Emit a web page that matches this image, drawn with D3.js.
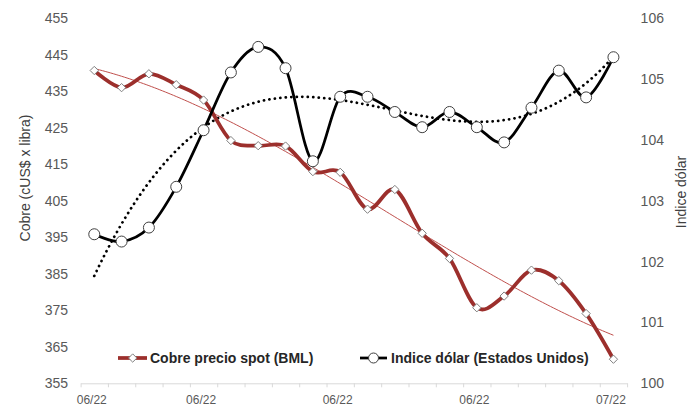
<!DOCTYPE html>
<html>
<head>
<meta charset="utf-8">
<script src="https://cdn.jsdelivr.net/npm/d3@7"></script>
<style>
  body { margin: 0; background: #fff; }
  svg { display: block; font-family: "Liberation Sans", Arial, sans-serif; }
  .axis text { fill: #595959; }
</style>
</head>
<body>
<svg id="chart" width="696" height="406"></svg>
<script>
// daily points, June 2022 -> 1 July 2022
var categories = ['06/22', '06/22', '06/22', '06/22', '06/22', '06/22', '06/22', '06/22', '06/22', '06/22',
  '06/22', '06/22', '06/22', '06/22', '06/22', '06/22', '06/22', '06/22', '06/22', '07/22']
var tickIndex = [0, 4, 9, 14, 19]

var cobre = [440.7, 436.0, 439.8, 436.8, 432.6, 421.5, 420.1, 420.0, 413.0, 412.8,
  402.7, 408.1, 396.1, 389.2, 375.7, 378.9, 386.0, 383.1, 374.1, 361.6]
var dolar = [102.45, 102.33, 102.56, 103.23, 104.16, 105.11, 105.53, 105.18, 103.65, 104.71,
  104.71, 104.46, 104.21, 104.46, 104.21, 103.96, 104.53, 105.14, 104.70, 105.36]

var leftTicks = [355, 365, 375, 385, 395, 405, 415, 425, 435, 445, 455]
var rightTicks = [100, 101, 102, 103, 104, 105, 106]

var cobreName = 'Cobre precio spot (BML)'
var dolarName = 'Indice dólar (Estados Unidos)'

// least squares polynomial fit (like excel trendline), x = 1..n
function polyFit(values, degree) {
  var n = degree + 1
  var A = [], b = []
  for (var r = 0; r < n; r++) {
    A.push(new Array(n).fill(0))
    b.push(0)
  }
  values.forEach(function (v, i) {
    var xv = i + 1
    for (var r = 0; r < n; r++) {
      for (var c = 0; c < n; c++) A[r][c] += Math.pow(xv, r + c)
      b[r] += v * Math.pow(xv, r)
    }
  })
  for (var k = 0; k < n; k++) {
    var p = k
    for (var r2 = k + 1; r2 < n; r2++) if (Math.abs(A[r2][k]) > Math.abs(A[p][k])) p = r2
    var t = A[k]; A[k] = A[p]; A[p] = t
    var tb = b[k]; b[k] = b[p]; b[p] = tb
    for (var r3 = k + 1; r3 < n; r3++) {
      var f = A[r3][k] / A[k][k]
      for (var c2 = k; c2 < n; c2++) A[r3][c2] -= f * A[k][c2]
      b[r3] -= f * b[k]
    }
  }
  var coef = new Array(n).fill(0)
  for (var k2 = n - 1; k2 >= 0; k2--) {
    var s = b[k2]
    for (var c3 = k2 + 1; c3 < n; c3++) s -= A[k2][c3] * coef[c3]
    coef[k2] = s / A[k2][k2]
  }
  return function (xv) {
    var y = 0
    for (var i = 0; i < n; i++) y += coef[i] * Math.pow(xv, i)
    return y
  }
}

var svg = d3.select('#chart')

var x = d3.scaleLinear().domain([-0.5, categories.length - 0.5]).range([80.6, 627.1])
var yL = d3.scaleLinear().domain([355, 455]).range([383.3, 18.3])
var yR = d3.scaleLinear().domain([100, 106]).range([383.3, 18.3])

// axes
svg.append('g')
  .attr('class', 'axis')
  .attr('transform', 'translate(80.6,0)')
  .call(d3.axisLeft(yL).tickValues(leftTicks).tickSize(0).tickPadding(12.5))
  .call(function (g) { g.select('.domain').remove() })
  .selectAll('text').attr('font-size', 14)

svg.append('g')
  .attr('class', 'axis')
  .attr('transform', 'translate(627.1,0)')
  .call(d3.axisRight(yR).tickValues(rightTicks).tickSize(0).tickPadding(13.5).tickFormat(d3.format('d')))
  .call(function (g) { g.select('.domain').remove() })
  .selectAll('text').attr('font-size', 14)

var bounds = d3.range(categories.length + 1).map(function (i) { return i - 0.5 })
svg.append('g')
  .attr('transform', 'translate(0,383.3)')
  .call(d3.axisBottom(x).tickValues(bounds).tickSize(4).tickSizeOuter(0).tickFormat(''))
  .call(function (g) {
    g.select('.domain').attr('stroke', '#d9d9d9')
    g.selectAll('.tick line').attr('stroke', '#d9d9d9')
  })

svg.append('g')
  .attr('class', 'axis')
  .attr('transform', 'translate(-3,383.3)')
  .call(d3.axisBottom(x).tickValues(tickIndex).tickSize(0).tickPadding(12.5)
    .tickFormat(function (i) { return categories[i] }))
  .call(function (g) { g.select('.domain').remove() })
  .selectAll('text').attr('font-size', 12)

// axis titles
svg.append('text')
  .attr('transform', 'translate(25,178) rotate(-90)')
  .attr('text-anchor', 'middle').attr('dy', '0.35em')
  .attr('font-size', 14).attr('fill', '#404040')
  .text('Cobre (cUS$ x libra)')

svg.append('text')
  .attr('transform', 'translate(681,192) rotate(-90)')
  .attr('text-anchor', 'middle').attr('dy', '0.35em')
  .attr('font-size', 14).attr('fill', '#404040')
  .text('Indice dólar')

// trendlines: polynomial 3 on both series
var fitC = polyFit(cobre, 3)
var fitD = polyFit(dolar, 3)
var samples = d3.range(0, categories.length - 1 + 0.001, 0.1)

svg.append('path')
  .datum(samples)
  .attr('fill', 'none')
  .attr('stroke', '#c0504d')
  .attr('stroke-width', 1)
  .attr('d', d3.line().x(function (t) { return x(t) }).y(function (t) { return yL(fitC(t + 1)) }))

svg.append('path')
  .datum(samples)
  .attr('fill', 'none')
  .attr('stroke', '#000')
  .attr('stroke-width', 2.75)
  .attr('stroke-linecap', 'round')
  .attr('stroke-dasharray', '0.1 5.4')
  .attr('d', d3.line().x(function (t) { return x(t) }).y(function (t) { return yR(fitD(t + 1)) }))

// smoothed series
var lineC = d3.line().curve(d3.curveCardinal)
  .x(function (d, i) { return x(i) }).y(function (d) { return yL(d) })
var lineD = d3.line().curve(d3.curveCardinal)
  .x(function (d, i) { return x(i) }).y(function (d) { return yR(d) })

svg.append('path')
  .datum(cobre)
  .attr('fill', 'none')
  .attr('stroke', '#9c2f2c')
  .attr('stroke-width', 3.75)
  .attr('stroke-linejoin', 'round')
  .attr('d', lineC)

svg.append('path')
  .datum(dolar)
  .attr('fill', 'none')
  .attr('stroke', '#000')
  .attr('stroke-width', 2.75)
  .attr('stroke-linejoin', 'round')
  .attr('d', lineD)

var diamond = d3.symbol().type(d3.symbolDiamond2).size(44)

svg.append('g').selectAll('path')
  .data(cobre)
  .enter().append('path')
  .attr('transform', function (d, i) { return 'translate(' + x(i) + ',' + yL(d) + ')' })
  .attr('d', diamond)
  .attr('fill', '#fff')
  .attr('stroke', '#7f7f7f')
  .attr('stroke-width', 1)

svg.append('g').selectAll('circle')
  .data(dolar)
  .enter().append('circle')
  .attr('cx', function (d, i) { return x(i) })
  .attr('cy', function (d) { return yR(d) })
  .attr('r', 5.5)
  .attr('fill', '#fff')
  .attr('stroke', '#404040')
  .attr('stroke-width', 1)

// legend
var legend = svg.append('g').attr('font-size', 14).attr('font-weight', 'bold').attr('fill', '#262626')

legend.append('line').attr('x1', 118).attr('x2', 147).attr('y1', 358).attr('y2', 358)
  .attr('stroke', '#9c2f2c').attr('stroke-width', 3.75)
legend.append('path').attr('transform', 'translate(132.7,358)').attr('d', diamond)
  .attr('fill', '#fff').attr('stroke', '#7f7f7f')
legend.append('text').attr('x', 150).attr('y', 358).attr('dy', '0.35em').text(cobreName)

legend.append('line').attr('x1', 360).attr('x2', 387).attr('y1', 358).attr('y2', 358)
  .attr('stroke', '#000').attr('stroke-width', 2.75)
legend.append('circle').attr('cx', 373.5).attr('cy', 358).attr('r', 5)
  .attr('fill', '#fff').attr('stroke', '#404040')
legend.append('text').attr('x', 391).attr('y', 358).attr('dy', '0.35em').text(dolarName)
</script>
</body>
</html>
